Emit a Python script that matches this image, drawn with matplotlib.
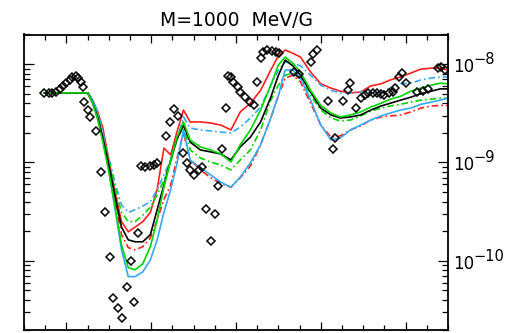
import matplotlib
matplotlib.use("Agg")
import matplotlib.pyplot as plt
from matplotlib.ticker import MultipleLocator, LogLocator, NullFormatter
import numpy as np

# energy grid shared by all model curves (arbitrary units)
x = [0.74, 1.00, 1.25, 1.31, 1.37, 1.43, 1.50, 1.58, 1.65, 1.73, 1.81, 1.90,
     1.99, 2.07, 2.15, 2.23, 2.30, 2.38, 2.46, 2.58, 2.70, 2.82, 2.94, 3.05,
     3.17, 3.29, 3.41, 3.50, 3.58, 3.67, 3.76, 3.88, 4.00, 4.12, 4.23, 4.35,
     4.47, 4.59, 4.71, 4.82, 4.94, 5.06, 5.18, 5.30, 5.41, 5.50]

# model curves, in units of 1e-9
black = [5.1, 5.1, 5.1, 4.0, 2.83, 1.77, 0.94, 0.42, 0.22, 0.163, 0.156, 0.156,
         0.184, 0.33, 0.59, 1.06, 1.69, 2.40, 1.61, 1.34, 1.28, 1.22, 1.06, 1.44,
         1.81, 2.58, 4.6, 7.7, 11.0, 9.6, 7.7, 5.2, 3.57, 3.04, 2.83, 2.90,
         3.04, 3.41, 3.75, 4.0, 4.3, 4.6, 5.0, 5.3, 5.6, 5.6]
green = [5.1, 5.1, 5.1, 4.0, 2.70, 1.61, 0.80, 0.33, 0.145, 0.085, 0.081, 0.093,
         0.139, 0.26, 0.56, 1.06, 1.77, 2.58, 1.69, 1.44, 1.34, 1.22, 1.01, 1.51,
         2.14, 3.41, 6.1, 9.8, 11.8, 10.2, 8.3, 5.4, 3.8, 3.18, 2.90, 3.04,
         3.26, 3.66, 4.0, 4.4, 4.7, 5.3, 5.7, 6.1, 6.4, 6.3]
blue = [5.1, 5.1, 5.1, 4.3, 2.97, 1.81, 0.84, 0.31, 0.129, 0.069, 0.069, 0.077,
        0.102, 0.163, 0.31, 0.53, 0.94, 2.14, 1.06, 0.88, 0.75, 0.63, 0.56, 0.71,
        0.99, 1.51, 2.83, 4.8, 8.7, 8.7, 7.2, 4.3, 2.40, 1.69, 1.77, 2.14,
        2.40, 2.70, 2.97, 3.18, 3.41, 3.57, 3.9, 4.1, 4.3, 4.5]
red = [5.1, 5.1, 5.1, 4.3, 3.26, 2.24, 1.06, 0.47, 0.25, 0.197, 0.22, 0.25,
       0.31, 0.53, 1.40, 1.19, 1.99, 3.41, 2.58, 2.58, 2.52, 2.40, 2.14, 3.26,
       4.0, 5.4, 8.7, 12.1, 13.9, 12.9, 11.8, 8.3, 6.3, 5.7, 5.3, 5.1,
       5.2, 6.0, 6.3, 6.9, 7.4, 8.1, 8.9, 9.1, 9.1, 8.7]
red_dd = [5.1, 5.1, 5.1, 4.3, 3.04, 1.90, 0.94, 0.37, 0.184, 0.136, 0.129, 0.139,
          0.171, 0.26, 0.42, 0.59, 1.06, 1.99, 1.06, 0.84, 0.70, 0.61, 0.56, 0.70,
          0.92, 1.51, 2.83, 4.8, 7.2, 7.7, 6.6, 4.0, 2.40, 1.81, 1.86, 2.14,
          2.35, 2.70, 2.90, 2.97, 3.04, 3.26, 3.57, 3.75, 3.8, 3.8]
green_dd = [5.1, 5.1, 5.1, 4.3, 3.04, 1.90, 1.06, 0.53, 0.31, 0.25, 0.25, 0.29,
            0.35, 0.47, 0.66, 1.01, 1.69, 2.29, 1.34, 1.11, 1.01, 0.94, 0.84, 1.06,
            1.34, 2.14, 4.3, 6.1, 7.7, 8.1, 7.2, 4.8, 3.41, 2.83, 2.64, 2.70,
            2.97, 3.33, 3.57, 3.75, 3.9, 4.1, 4.3, 4.4, 4.5, 4.5]
blue_dd = [5.1, 5.1, 5.1, 4.3, 3.26, 2.04, 1.11, 0.59, 0.37, 0.31, 0.33, 0.36,
           0.40, 0.53, 0.75, 1.06, 1.69, 2.90, 2.24, 2.14, 2.09, 2.04, 1.99, 2.29,
           2.83, 3.66, 6.1, 8.7, 10.5, 10.2, 9.6, 7.7, 6.1, 5.4, 5.1, 5.1,
           5.2, 5.2, 5.2, 5.7, 6.3, 6.4, 6.9, 7.2, 7.4, 7.4]

# measured points, in units of 1e-9
data_x = [0.74, 0.79, 0.83, 0.88, 0.93, 0.96, 1.00, 1.04, 1.07, 1.11, 1.14, 1.17,
          1.19, 1.21, 1.25, 1.28, 1.35, 1.41, 1.46, 1.51, 1.55, 1.61, 1.66, 1.71,
          1.76, 1.80, 1.85, 1.88, 1.93, 1.98, 2.03, 2.07, 2.17, 2.22, 2.27, 2.32,
          2.38, 2.42, 2.46, 2.50, 2.56, 2.60, 2.65, 2.70, 2.75, 2.79, 2.84, 2.88,
          2.90, 2.94, 2.97, 3.02, 3.05, 3.11, 3.17, 3.21, 3.25, 3.29, 3.32, 3.37,
          3.42, 3.47, 3.51, 3.68, 3.74, 3.88, 3.91, 3.95, 4.08, 4.14, 4.17, 4.26,
          4.32, 4.35, 4.41, 4.47, 4.52, 4.56, 4.61, 4.66, 4.71, 4.75, 4.80, 4.85,
          4.88, 4.92, 4.96, 5.00, 5.14, 5.20, 5.26, 5.38, 5.42, 5.46]
data_y = [5.1, 5.1, 5.1, 5.2, 5.6, 6.0, 6.4, 6.9, 7.4, 7.6, 7.2, 6.6,
          5.8, 4.1, 3.41, 2.90, 2.09, 0.80, 0.31, 0.110, 0.042, 0.033, 0.026, 0.054,
          0.100, 0.038, 0.192, 0.92, 0.90, 0.92, 0.94, 0.99, 1.86, 2.58, 3.5, 2.97,
          1.25, 0.99, 0.84, 0.75, 0.84, 0.90, 0.34, 0.160, 0.30, 0.58, 1.37, 3.57,
          7.6, 7.4, 6.6, 5.8, 5.2, 4.6, 4.1, 3.8, 6.6, 11.5, 13.2, 13.9,
          13.5, 13.2, 12.9, 8.3, 7.9, 10.5, 12.6, 13.9, 4.2, 1.37, 1.77, 4.2,
          5.4, 6.4, 3.57, 4.5, 4.8, 5.1, 5.1, 5.1, 5.0, 4.8, 5.1, 5.2,
          5.7, 7.4, 8.1, 6.4, 5.2, 5.3, 5.6, 9.1, 9.3, 8.7]

unit = 1e-9
RED = "#ff2020"
GREEN = "#00d400"
BLUE = "#35aaf2"
dd = (0, (4, 1.8, 1, 1.8))

fig = plt.figure(figsize=(5.29, 3.33), dpi=100)
ax = fig.add_axes([24 / 529, 3.5 / 333, 424 / 529, 295 / 333])

xs = np.array(x)
ax.plot(xs, np.array(red) * unit, color=RED, lw=1.2)
ax.plot(xs, np.array(red_dd) * unit, color=RED, lw=1.2, ls=dd)
ax.plot(xs, np.array(blue_dd) * unit, color=BLUE, lw=1.2, ls=dd)
ax.plot(xs, np.array(green_dd) * unit, color=GREEN, lw=1.2, ls=dd)
ax.plot(xs, np.array(blue) * unit, color=BLUE, lw=1.2)
ax.plot(xs, np.array(black) * unit, color="black", lw=1.2)
ax.plot(xs, np.array(green) * unit, color=GREEN, lw=1.2)

ax.plot(data_x, np.array(data_y) * unit, ls="none", marker="D", ms=4.2,
        mfc="none", mec="black", mew=1.1)

ax.set_yscale("log")
ax.set_ylim(2e-11, 2e-8)
ax.set_xlim(0.5, 5.5)

ax.xaxis.set_major_locator(MultipleLocator(1))
ax.xaxis.set_minor_locator(MultipleLocator(0.25))
ax.yaxis.set_minor_locator(LogLocator(base=10, subs=np.arange(2, 10)))
ax.yaxis.set_minor_formatter(NullFormatter())

ax.tick_params(axis="both", which="both", direction="in", top=True, bottom=True,
               left=True, right=True, labelbottom=False, labelleft=False,
               labelright=False, width=0.9, color="black")
ax.tick_params(axis="x", which="major", length=5.5)
ax.tick_params(axis="x", which="minor", length=3.5)
ax.tick_params(axis="y", which="major", length=7.5)
ax.tick_params(axis="y", which="minor", length=4.5)
for s in ax.spines.values():
    s.set_linewidth(1.3)

# IDL style exponent labels on the right
for e in [-8, -9, -10]:
    ax.annotate("10", xy=(1, 10.0 ** e), xycoords=("axes fraction", "data"),
                xytext=(5, -8), textcoords="offset pixels", ha="left",
                va="baseline", fontsize=12, annotation_clip=False)
    ax.annotate("\u2212%d" % (-e), xy=(1, 10.0 ** e),
                xycoords=("axes fraction", "data"), xytext=(25, 0),
                textcoords="offset pixels", ha="left", va="baseline",
                fontsize=10.5, annotation_clip=False)

ax.set_title("M=1000  MeV/G", fontsize=13.5, pad=6)

fig.savefig("out.png", dpi=100)
